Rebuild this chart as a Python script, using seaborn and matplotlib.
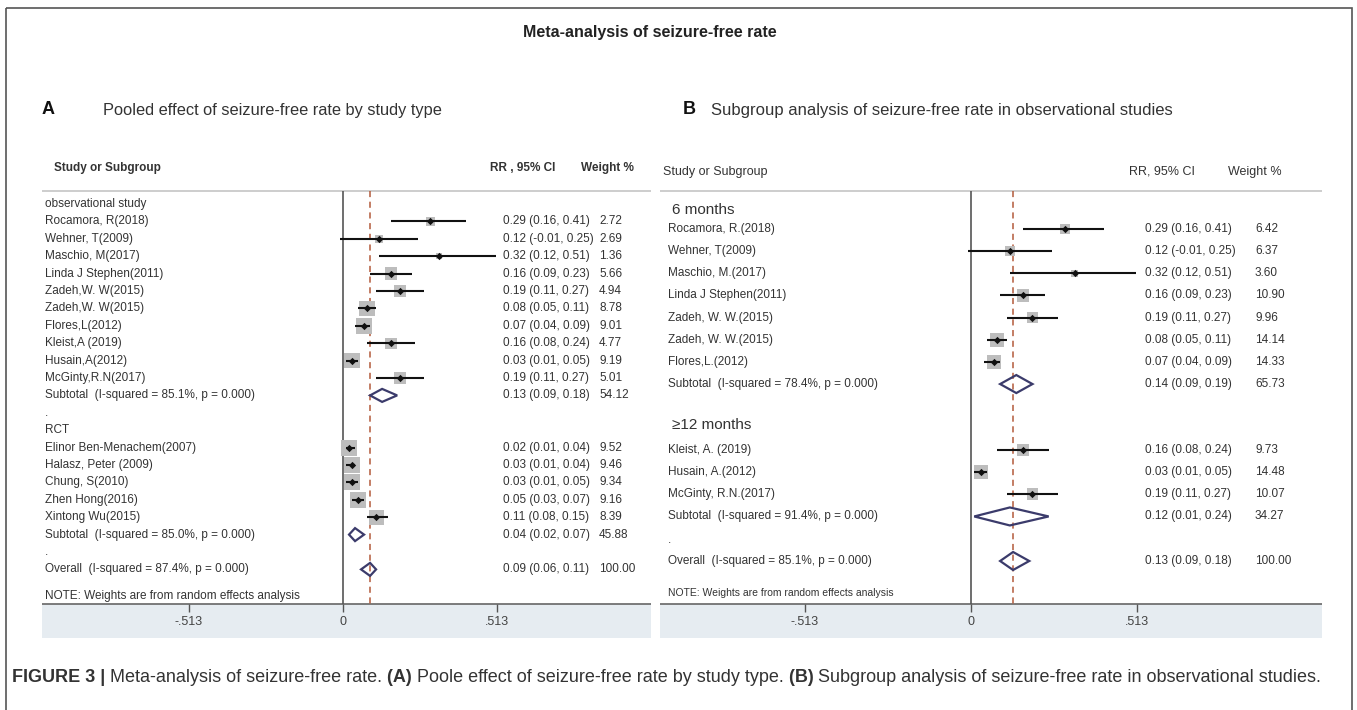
import numpy as np
import pandas as pd
import seaborn as sns
import matplotlib.pyplot as plt
from matplotlib.patches import Polygon, Rectangle

# ---- data: panel A (pooled by study type) ----
obs_names = ["Rocamora, R(2018)", "Wehner, T(2009)", "Maschio, M(2017)", "Linda J Stephen(2011)",
             "Zadeh,W. W(2015)", "Zadeh,W. W(2015)", "Flores,L(2012)", "Kleist,A (2019)",
             "Husain,A(2012)", "McGinty,R.N(2017)"]
obs_rr = [0.29, 0.12, 0.32, 0.16, 0.19, 0.08, 0.07, 0.16, 0.03, 0.19]
obs_lo = [0.16, -0.01, 0.12, 0.09, 0.11, 0.05, 0.04, 0.08, 0.01, 0.11]
obs_hi = [0.41, 0.25, 0.51, 0.23, 0.27, 0.11, 0.09, 0.24, 0.05, 0.27]
obs_w = [2.72, 2.69, 1.36, 5.66, 4.94, 8.78, 9.01, 4.77, 9.19, 5.01]

rct_names = ["Elinor Ben-Menachem(2007)", "Halasz, Peter (2009)", "Chung, S(2010)",
             "Zhen Hong(2016)", "Xintong Wu(2015)"]
rct_rr = [0.02, 0.03, 0.03, 0.05, 0.11]
rct_lo = [0.01, 0.01, 0.01, 0.03, 0.08]
rct_hi = [0.04, 0.04, 0.05, 0.07, 0.15]
rct_w = [9.52, 9.46, 9.34, 9.16, 8.39]

# subtotal / overall: (rr, lo, hi, weight, I2)
obs_sub = (0.13, 0.09, 0.18, 54.12, 85.1)
rct_sub = (0.04, 0.02, 0.07, 45.88, 85.0)
a_overall = (0.09, 0.06, 0.11, 100.00, 87.4)

# ---- data: panel B (follow-up subgroups) ----
m6_names = ["Rocamora, R.(2018)", "Wehner, T(2009)", "Maschio, M.(2017)", "Linda J Stephen(2011)",
            "Zadeh, W. W.(2015)", "Zadeh, W. W.(2015)", "Flores,L.(2012)"]
m6_rr = [0.29, 0.12, 0.32, 0.16, 0.19, 0.08, 0.07]
m6_lo = [0.16, -0.01, 0.12, 0.09, 0.11, 0.05, 0.04]
m6_hi = [0.41, 0.25, 0.51, 0.23, 0.27, 0.11, 0.09]
m6_w = [6.42, 6.37, 3.60, 10.90, 9.96, 14.14, 14.33]

m12_names = ["Kleist, A. (2019)", "Husain, A.(2012)", "McGinty, R.N.(2017)"]
m12_rr = [0.16, 0.03, 0.19]
m12_lo = [0.08, 0.01, 0.11]
m12_hi = [0.24, 0.05, 0.27]
m12_w = [9.73, 14.48, 10.07]

m6_sub = (0.14, 0.09, 0.19, 65.73, 78.4)
m12_sub = (0.12, 0.01, 0.24, 34.27, 91.4)
b_overall = (0.13, 0.09, 0.18, 100.00, 85.1)

ticks = [-0.513, 0, 0.513]
tick_labels = ["-.513", "0", ".513"]

# ---- style ----
sns.set_theme(style="white")
plt.rcParams['font.family'] = ['Liberation Sans', 'DejaVu Sans']
NARROW = ['Liberation Sans Narrow', 'Liberation Sans', 'DejaVu Sans']
TXT = '#333333'
SQ = '#bdbdbd'
DIA = '#3b3b6b'

W, H = 1357, 710
fig = plt.figure(figsize=(W / 100, H / 100), dpi=100)
bg = fig.add_axes([0, 0, 1, 1])
bg.set_xlim(0, W)
bg.set_ylim(H, 0)
bg.axis('off')

bg.add_patch(Rectangle((6, 8), 1346, 705, fill=False, edgecolor='#555555', lw=1.2))
bg.text(650, 33, "Meta-analysis of seizure-free rate", ha='center', va='center',
        fontsize=11.5, fontweight='bold', color='#222222')
bg.text(42, 110, "A", fontsize=13, fontweight='bold', va='center', color='#111111')
bg.text(103, 110, "Pooled effect of seizure-free rate by study type", fontsize=11.8,
        va='center', color=TXT)
bg.text(683, 110, "B", fontsize=13, fontweight='bold', va='center', color='#111111')
bg.text(711, 110, "Subgroup analysis of seizure-free rate in observational studies",
        fontsize=12, va='center', color=TXT)


def make_axes(x0, x1, zero, scale):
    ax = fig.add_axes([x0 / W, 0, (x1 - x0) / W, 1])
    ax.set_xlim((x0 - zero) / scale, (x1 - zero) / scale)
    ax.set_ylim(H, 0)
    ax.axis('off')
    return ax


def est_text(rr, lo, hi):
    return f"{rr:.2f} ({lo:.2f}, {hi:.2f})"


def draw_studies(ax, ys, rr, lo, hi, w, k):
    df = pd.DataFrame({'y': ys, 'rr': rr, 'lo': lo, 'hi': hi, 'w': w})
    side = k * np.sqrt(df['w']) * 0.72
    sns.scatterplot(data=df, x='rr', y='y', marker='s', s=side ** 2, color=SQ,
                    linewidth=0, ax=ax, legend=False, zorder=2)
    ax.hlines(df['y'], df['lo'], df['hi'], color='#111111', lw=1.5, zorder=3)
    sns.scatterplot(data=df, x='rr', y='y', marker='D', s=14, color='#111111',
                    linewidth=0, ax=ax, legend=False, zorder=4)


def draw_diamond(ax, y, vals, h):
    rr, lo, hi = vals[:3]
    ax.add_patch(Polygon([(lo, y), (rr, y - h), (hi, y), (rr, y + h)], closed=True,
                         fill=False, edgecolor=DIA, lw=1.6, zorder=5))


def draw_frame(ax, overall, band_top=604, band_bot=638, head=191):
    ax.axhline(head, color='#c9c9c9', lw=1.3)
    ax.axhspan(band_top, band_bot, color='#e6ecf1', lw=0, zorder=0)
    ax.axhline(band_top, color='#666666', lw=1.2)
    ax.vlines(0, head, band_top, color='#555555', lw=1.2)
    ax.vlines(overall, head, band_top, color='#b35a3a', lw=1.1, linestyles=(0, (4, 3)))
    ax.vlines(ticks, band_top, band_top + 8, color='#555555', lw=1.0)
    for t, lab in zip(ticks, tick_labels):
        ax.text(t, 622, lab, ha='center', va='center', fontsize=9, color='#444444',
                family=NARROW)


# ---------------- Panel A ----------------
axA = make_axes(42, 651, 343, 300.8)
draw_frame(axA, a_overall[0])
step = 17.4
yA = lambda i: 204 + step * i
lab_x, est_x, w_x = 45, 503, 599
fs = 8.5

bg.text(54, 168, "Study or Subgroup", fontsize=8.5, fontweight='bold', va='center', color=TXT, family=NARROW)
bg.text(490, 168, "RR , 95% CI", fontsize=8.5, fontweight='bold', va='center', color=TXT, family=NARROW)
bg.text(581, 168, "Weight %", fontsize=8.5, fontweight='bold', va='center', color=TXT, family=NARROW)

rows = []
rows.append((0, "observational study", None, None))
obs_y = [yA(i + 1) for i in range(len(obs_names))]
for i, n in enumerate(obs_names):
    rows.append((i + 1, n, est_text(obs_rr[i], obs_lo[i], obs_hi[i]), f"{obs_w[i]:.2f}"))
rows.append((11, f"Subtotal  (I-squared = {obs_sub[4]:.1f}%, p = 0.000)",
             est_text(*obs_sub[:3]), f"{obs_sub[3]:.2f}"))
rows.append((12, ".", None, None))
rows.append((13, "RCT", None, None))
rct_y = [yA(i + 14) for i in range(len(rct_names))]
for i, n in enumerate(rct_names):
    rows.append((i + 14, n, est_text(rct_rr[i], rct_lo[i], rct_hi[i]), f"{rct_w[i]:.2f}"))
rows.append((19, f"Subtotal  (I-squared = {rct_sub[4]:.1f}%, p = 0.000)",
             est_text(*rct_sub[:3]), f"{rct_sub[3]:.2f}"))
rows.append((20, ".", None, None))
rows.append((21, f"Overall  (I-squared = {a_overall[4]:.1f}%, p = 0.000)",
             est_text(*a_overall[:3]), f"{a_overall[3]:.2f}"))
for i, lab, e, wt in rows:
    bg.text(lab_x, yA(i), lab, fontsize=fs, va='center', color=TXT, family=NARROW)
    if e:
        bg.text(est_x, yA(i), e, fontsize=fs, va='center', color=TXT, family=NARROW)
        bg.text(w_x, yA(i), wt, fontsize=fs, va='center', color=TXT, family=NARROW)
bg.text(lab_x, 596, "NOTE: Weights are from random effects analysis", fontsize=fs,
        va='center', color=TXT, family=NARROW)

draw_studies(axA, obs_y, obs_rr, obs_lo, obs_hi, obs_w, 5.2)
draw_studies(axA, rct_y, rct_rr, rct_lo, rct_hi, rct_w, 5.2)
draw_diamond(axA, yA(11), obs_sub, 6.5)
draw_diamond(axA, yA(19), rct_sub, 6.5)
draw_diamond(axA, yA(21), a_overall, 6.5)

# ---------------- Panel B ----------------
axB = make_axes(660, 1322, 971, 323.6)
draw_frame(axB, b_overall[0])
blab_x, best_x, bw_x = 668, 1145, 1255

bg.text(663, 172, "Study or Subgroup", fontsize=9, va='center', color=TXT, family=NARROW)
bg.text(1129, 172, "RR, 95% CI", fontsize=9, va='center', color=TXT, family=NARROW)
bg.text(1282, 172, "Weight %", fontsize=9, va='center', ha='right', color=TXT, family=NARROW)

bstep = 22.15
m6_y = [229 + bstep * i for i in range(len(m6_names))]
sub6_y = 229 + bstep * 7
m12_y = [450 + bstep * i for i in range(len(m12_names))]
sub12_y = 450 + bstep * 3
ov_y = 561

bg.text(672, 210, "6 months", fontsize=11, va='center', color=TXT)
bg.text(672, 425, "≥12 months", fontsize=11, va='center', color=TXT)
for names, ys, rr, lo, hi, w in [(m6_names, m6_y, m6_rr, m6_lo, m6_hi, m6_w),
                                 (m12_names, m12_y, m12_rr, m12_lo, m12_hi, m12_w)]:
    for i, n in enumerate(names):
        bg.text(blab_x, ys[i], n, fontsize=fs, va='center', color=TXT, family=NARROW)
        bg.text(best_x, ys[i], est_text(rr[i], lo[i], hi[i]), fontsize=fs, va='center',
                color=TXT, family=NARROW)
        bg.text(bw_x, ys[i], f"{w[i]:.2f}", fontsize=fs, va='center', color=TXT, family=NARROW)
for y, vals, lab in [(sub6_y, m6_sub, "Subtotal"), (sub12_y, m12_sub, "Subtotal"),
                     (ov_y, b_overall, "Overall")]:
    bg.text(blab_x, y, f"{lab}  (I-squared = {vals[4]:.1f}%, p = 0.000)", fontsize=fs,
            va='center', color=TXT, family=NARROW)
    bg.text(best_x, y, est_text(*vals[:3]), fontsize=fs, va='center', color=TXT, family=NARROW)
    bg.text(bw_x, y, f"{vals[3]:.2f}", fontsize=fs, va='center', color=TXT, family=NARROW)
bg.text(blab_x, 540, ".", fontsize=fs, va='center', color=TXT, family=NARROW)
bg.text(blab_x, 593, "NOTE: Weights are from random effects analysis", fontsize=7.5,
        va='center', color=TXT, family=NARROW)

draw_studies(axB, m6_y, m6_rr, m6_lo, m6_hi, m6_w, 3.7)
draw_studies(axB, m12_y, m12_rr, m12_lo, m12_hi, m12_w, 3.7)
draw_diamond(axB, sub6_y, m6_sub, 9)
draw_diamond(axB, sub12_y, m12_sub, 9)
draw_diamond(axB, ov_y, b_overall, 9)

# ---------------- caption (mixed weights) ----------------
pieces = [("FIGURE 3 | ", 'bold'), ("Meta-analysis of seizure-free rate. ", 'normal'),
          ("(A) ", 'bold'), ("Poole effect of seizure-free rate by study type. ", 'normal'),
          ("(B) ", 'bold'), ("Subgroup analysis of seizure-free rate in observational studies.", 'normal')]
fig.canvas.draw()
renderer = fig.canvas.get_renderer()
x = 12
for txt, wt in pieces:
    t = bg.text(x, 677, txt, fontsize=13.0, fontweight=wt, va='center', color='#333333')
    bb = t.get_window_extent(renderer=renderer)
    x += bb.width

fig.savefig("out.png", dpi=100)
